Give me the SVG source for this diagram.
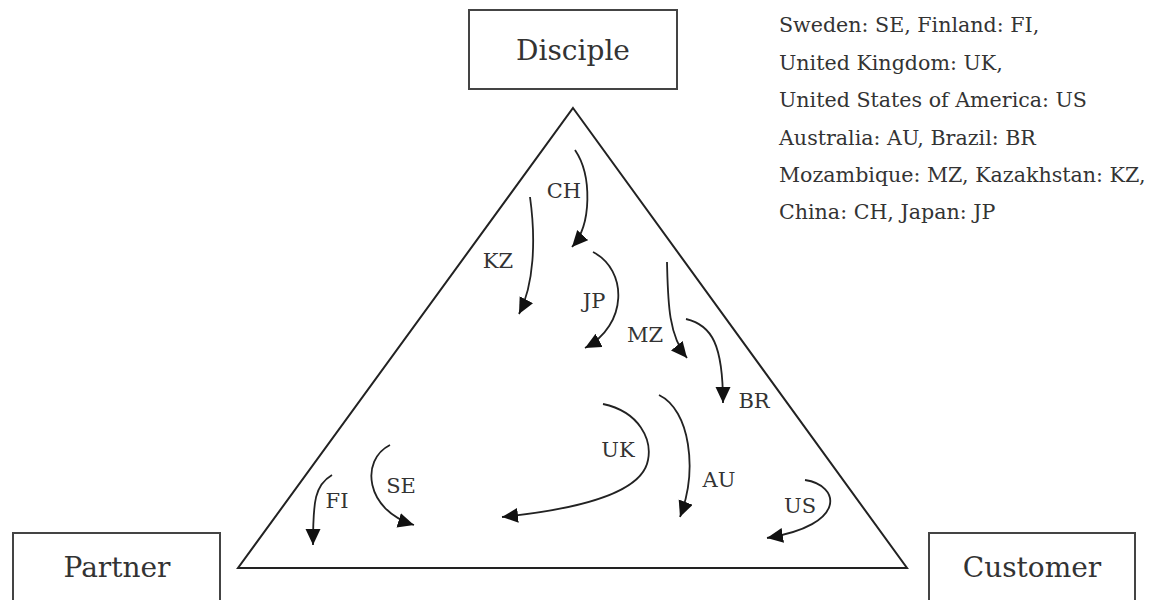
<svg xmlns="http://www.w3.org/2000/svg" width="1159" height="600" viewBox="0 0 1159 600">
<style>
.box{fill:#fff;stroke:#444;stroke-width:2}
.tri{fill:none;stroke:#222;stroke-width:2}
.t{font-family:"DejaVu Serif","Liberation Serif",serif;fill:#333}
.big{font-size:28px;text-anchor:middle}
.lab{font-size:21px;text-anchor:middle}
.leg{font-size:20.6px}
.arr{fill:none;stroke:#222;stroke-width:1.8;marker-end:url(#ah)}
</style>
<defs>
<marker id="ah" markerUnits="userSpaceOnUse" markerWidth="18" markerHeight="16" refX="16" refY="7.5" orient="auto">
<path d="M0,0 L16,7.5 L0,15 Z" fill="#111"/>
</marker>
</defs>
<rect width="1159" height="600" fill="#fff"/>
<g id="triangle"><path class="tri" d="M573,108 L907,568 L238,568 Z"/></g>
<g id="disciple"><rect class="box" x="469" y="10" width="208" height="79"/><text class="t big" x="573" y="60">Disciple</text></g>
<g id="partner"><rect class="box" x="13" y="533" width="207" height="80"/><text class="t big" x="117" y="577">Partner</text></g>
<g id="customer"><rect class="box" x="929" y="533" width="206" height="80"/><text class="t big" x="1032" y="577">Customer</text></g>
<g id="legend" class="t leg">
<text x="779" y="32">Sweden: SE, Finland: FI,</text>
<text x="779" y="69.5">United Kingdom: UK,</text>
<text x="779" y="107">United States of America: US</text>
<text x="779" y="144.5">Australia: AU, Brazil: BR</text>
<text x="779" y="182">Mozambique: MZ, Kazakhstan: KZ,</text>
<text x="779" y="219">China: CH, Japan: JP</text>
</g>
<g id="connectors">
<path class="arr" d="M575,150 C592,175 592,225 572,247"/>
<path class="arr" d="M530,197 C536,240 534,285 519,314"/>
<path class="arr" d="M593,252 C628,270 628,325 585,348"/>
<path class="arr" d="M667,262 C668,300 668,335 687,358"/>
<path class="arr" d="M686,319 C712,325 723,345 723,403"/>
<path class="arr" d="M603,404 C640,412 652,440 648,460 C642,495 570,510 502,517"/>
<path class="arr" d="M659,395 C690,410 698,470 680,517"/>
<path class="arr" d="M805,480 C840,485 848,525 767,538"/>
<path class="arr" d="M390,445 C360,460 365,510 414,525"/>
<path class="arr" d="M332,475 C315,485 313,500 313,545"/>
</g>
<g id="labels" class="t lab">
<text x="564" y="198">CH</text>
<text x="498" y="268">KZ</text>
<text x="594" y="308">JP</text>
<text x="645" y="342">MZ</text>
<text x="754" y="408">BR</text>
<text x="618" y="457">UK</text>
<text x="719" y="487">AU</text>
<text x="800" y="513">US</text>
<text x="401" y="493">SE</text>
<text x="337" y="508">FI</text>
</g>
</svg>
